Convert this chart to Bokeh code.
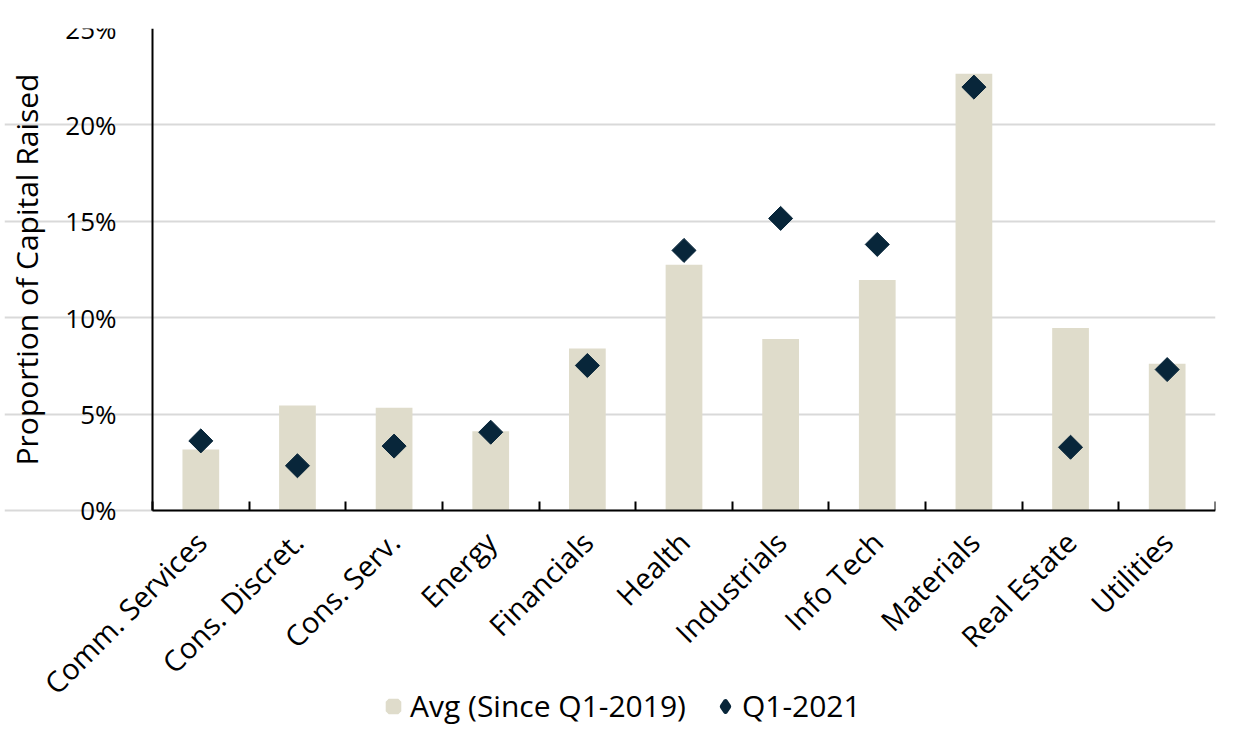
import math
from bokeh.plotting import figure
from bokeh.models import (ColumnDataSource, FixedTicker, NumeralTickFormatter,
                          Range1d, Legend, LegendItem, Label)
from bokeh.embed import file_html
from bokeh.resources import INLINE

categories = ["Comm. Services", "Cons. Discret.", "Cons. Serv.", "Energy", "Financials",
              "Health", "Industrials", "Info Tech", "Materials", "Real Estate", "Utilities"]
avg_since_2019 = [0.0316, 0.0545, 0.0533, 0.0411, 0.0840, 0.1275, 0.0890, 0.1195, 0.2265, 0.0946, 0.0761]
q1_2021 = [0.0361, 0.0232, 0.0334, 0.0406, 0.0752, 0.1349, 0.1515, 0.1380, 0.2196, 0.0328, 0.0731]
y_ticks = [0, 0.05, 0.10, 0.15, 0.20, 0.25]
y_title = "Proportion of Capital Raised"

FONT = "Open Sans"
BAR = "#DFDCCB"
NAVY = "#08263A"

n = len(categories)
xpos = [i + 0.5 for i in range(n)]
src = ColumnDataSource(dict(x=xpos, avg=avg_since_2019, q=q1_2021, cat=categories))

# frame extends left of / below the axes to leave room for labels and legend
p = figure(frame_width=1211, frame_height=701, output_backend="svg", toolbar_location=None,
           x_range=Range1d(-1.5315, n), y_range=Range1d(-0.1136, 0.25),
           min_border_left=4, min_border_right=16, min_border_top=28, min_border_bottom=0)
p.outline_line_color = None

bars = p.vbar(x="x", top="avg", width=0.38, source=src, fill_color=BAR, line_color=None)
pts = p.scatter(x="x", y="q", source=src, marker="square", angle=math.pi / 4, size=17,
                fill_color=NAVY, line_color=NAVY)

# legend-only proxies (hidden)
leg_bar = p.scatter(x="x", y="avg", source=src, marker="square", size=12,
                    fill_color=BAR, line_color=BAR, line_width=6, visible=False)
leg_pt = p.scatter(x="x", y="q", source=src, marker="diamond", size=12,
                   fill_color=NAVY, line_color=NAVY, line_width=5, line_join="round",
                   visible=False)

# x axis
xa = p.xaxis[0]
xa.fixed_location = 0
xa.bounds = (0, n)
xa.ticker = FixedTicker(ticks=xpos, minor_ticks=list(range(n + 1)))
xa.major_label_overrides = {x: c for x, c in zip(xpos, categories)}
xa.major_label_orientation = math.pi / 4
xa.major_tick_line_color = None
xa.minor_tick_in = 9
xa.minor_tick_out = 0
xa.minor_tick_line_color = "black"
xa.minor_tick_line_width = 2
xa.axis_line_color = "black"
xa.axis_line_width = 2
xa.major_label_text_font = FONT
xa.major_label_text_font_size = "29px"
xa.major_label_text_color = "black"
xa.major_label_standoff = 20

# y axis
ya = p.yaxis[0]
ya.fixed_location = 0
ya.bounds = (0, 0.25)
ya.ticker = FixedTicker(ticks=y_ticks)
ya.formatter = NumeralTickFormatter(format="0%")
ya.major_tick_line_color = None
ya.minor_tick_line_color = None
ya.axis_line_color = "black"
ya.axis_line_width = 2
ya.major_label_text_font = FONT
ya.major_label_text_font_size = "26px"
ya.major_label_text_color = "black"
ya.major_label_standoff = 30

p.add_layout(Label(x=-1.3, y=0.125, text=y_title, angle=math.pi / 2,
                   text_align="center", text_baseline="middle", text_font=FONT,
                   text_font_size="30px", text_color="black"))

p.xgrid.grid_line_color = None
p.ygrid.ticker = FixedTicker(ticks=y_ticks)
p.ygrid.bounds = (0, n)
p.ygrid.grid_line_color = "#D9D9D9"
p.ygrid.grid_line_width = 2

legend = Legend(items=[LegendItem(label="Avg (Since Q1-2019)", renderers=[leg_bar]),
                       LegendItem(label="Q1-2021", renderers=[leg_pt])],
                orientation="horizontal", location=(374, 3),
                label_text_font=FONT, label_text_font_size="30px", label_text_color="black",
                label_height=24, glyph_width=30, glyph_height=24, spacing=24, padding=0, margin=0,
                border_line_color=None, background_fill_alpha=0, label_standoff=2,
                inactive_fill_alpha=0)
p.add_layout(legend, "center")

open("out.html", "w").write(file_html(p, INLINE))
